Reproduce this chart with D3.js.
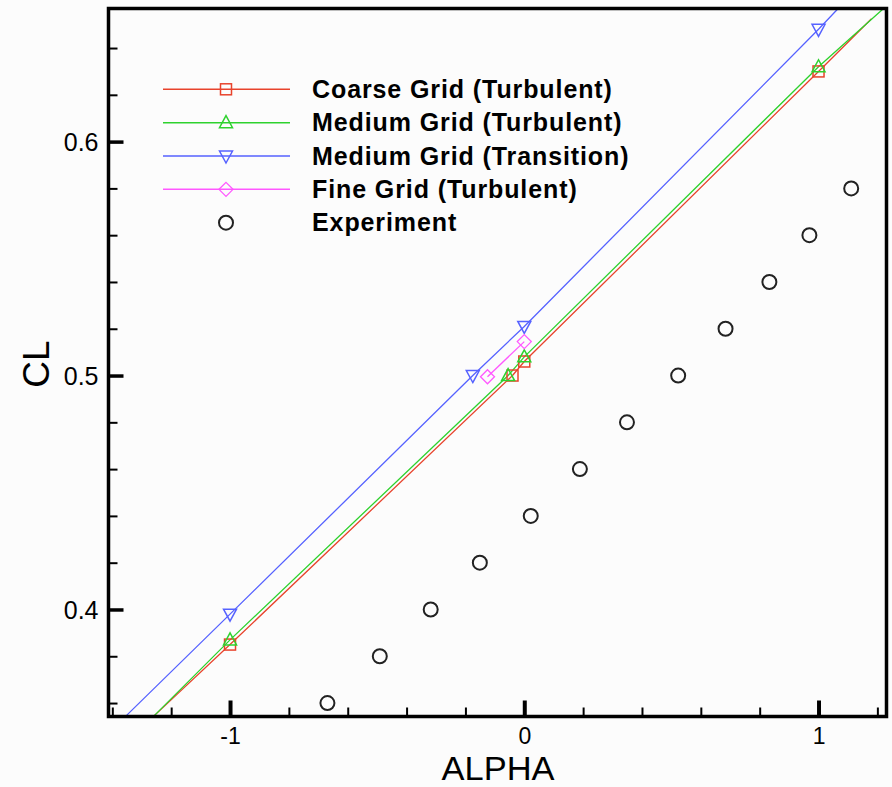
<!DOCTYPE html>
<html>
<head>
<meta charset="utf-8">
<script src="https://cdn.jsdelivr.net/npm/d3@7"></script>
<style>
  html, body { margin: 0; padding: 0; background: #fcfcfc; }
  svg { display: block; }
  text { font-family: "Liberation Sans", Arial, Helvetica, sans-serif; fill: #000; }
</style>
</head>
<body>
<svg id="chart" width="892" height="787"></svg>
<script>
// Lift coefficient vs angle of attack: CFD grids and experiment

// Coarse grid, turbulent
const coarseAlpha = [-1, -0.04, 0, 1];
const coarseCL    = [0.385, 0.5, 0.506, 0.630];
const coarseCurveAlpha = [-1.26, -1, -0.04, 0, 1, 1.18];
const coarseCurveCL    = [0.3543, 0.385, 0.5, 0.506, 0.630, 0.6525];

// Medium grid, turbulent
const mediumAlpha = [-1, -0.055, 0, 1];
const mediumCL    = [0.387, 0.5, 0.508, 0.632];
const mediumCurveAlpha = [-1.26, -1, -0.055, 0, 1, 1.22];
const mediumCurveCL    = [0.3543, 0.387, 0.5, 0.508, 0.632, 0.6568];

// Medium grid, transition
const transAlpha = [-1, -0.175, 0, 1];
const transCL    = [0.398, 0.5, 0.521, 0.648];
const transCurveAlpha = [-1.355, -1, -0.175, 0, 1, 1.066];
const transCurveCL    = [0.3543, 0.398, 0.5, 0.521, 0.648, 0.6568];

// Fine grid, turbulent
const fineAlpha = [-0.125, 0];
const fineCL    = [0.4995, 0.5145];

// Experiment
const expAlpha = [-0.669, -0.491, -0.318, -0.151, 0.022, 0.189, 0.349, 0.523, 0.684, 0.833, 0.969, 1.111];
const expCL    = [0.36, 0.38, 0.40, 0.42, 0.44, 0.46, 0.48, 0.50, 0.52, 0.54, 0.56, 0.58];

// Axis ticks
const xMajorTicks = [-1, 0, 1];
const xMinorTicks = [-1.4, -1.2, -0.8, -0.6, -0.4, -0.2, 0.2, 0.4, 0.6, 0.8, 1.2];
const yMajorTicks = [0.4, 0.5, 0.6];
const yMinorTicks = [0.36, 0.38, 0.42, 0.44, 0.46, 0.48, 0.52, 0.54, 0.56, 0.58, 0.62, 0.64];
const xTickLabels = ["-1", "0", "1"];
const yTickLabels = ["0.4", "0.5", "0.6"];

const legendLabels = [
  "Coarse Grid (Turbulent)",
  "Medium Grid (Turbulent)",
  "Medium Grid (Transition)",
  "Fine Grid (Turbulent)",
  "Experiment"
];

const zip = (a, b) => a.map((v, i) => [v, b[i]]);

const series = [
  { name: legendLabels[0], color: "#e8432c", symbol: "square",   pts: zip(coarseAlpha, coarseCL), curve: zip(coarseCurveAlpha, coarseCurveCL) },
  { name: legendLabels[1], color: "#2ed22e", symbol: "triUp",    pts: zip(mediumAlpha, mediumCL), curve: zip(mediumCurveAlpha, mediumCurveCL) },
  { name: legendLabels[2], color: "#5662ff", symbol: "triDown",  pts: zip(transAlpha, transCL),   curve: zip(transCurveAlpha, transCurveCL) },
  { name: legendLabels[3], color: "#ff58ff", symbol: "diamond",  pts: zip(fineAlpha, fineCL),     curve: zip(fineAlpha, fineCL) }
];

const svg = d3.select("#chart");
const plotLeft = 108.5, plotRight = 886.5, plotTop = 8.5, plotBottom = 716.5;

const x = d3.scaleLinear().domain([-1.413, 1.231]).range([plotLeft, plotRight]);
const y = d3.scaleLinear().domain([0.35425, 0.6569]).range([plotBottom, plotTop]);

svg.append("defs").append("clipPath").attr("id", "plotClip")
  .append("rect").attr("x", plotLeft).attr("y", plotTop)
  .attr("width", plotRight - plotLeft).attr("height", plotBottom - plotTop);

// Marker shapes drawn around a centre point
function marker(g, type, cx, cy, color) {
  const s = 5.5;
  if (type === "square") {
    g.append("rect").attr("x", cx - s).attr("y", cy - s).attr("width", 2 * s).attr("height", 2 * s)
      .attr("fill", "none").attr("stroke", color).attr("stroke-width", 1.5);
  } else if (type === "triUp") {
    g.append("path").attr("d", `M${cx},${cy - 7}L${cx + 6.5},${cy + 5}L${cx - 6.5},${cy + 5}Z`)
      .attr("fill", "none").attr("stroke", color).attr("stroke-width", 1.5);
  } else if (type === "triDown") {
    g.append("path").attr("d", `M${cx},${cy + 7}L${cx + 6.5},${cy - 5}L${cx - 6.5},${cy - 5}Z`)
      .attr("fill", "none").attr("stroke", color).attr("stroke-width", 1.5);
  } else if (type === "diamond") {
    g.append("path").attr("d", `M${cx},${cy - 7}L${cx + 7},${cy}L${cx},${cy + 7}L${cx - 7},${cy}Z`)
      .attr("fill", "none").attr("stroke", color).attr("stroke-width", 1.3);
  } else if (type === "circle") {
    g.append("circle").attr("cx", cx).attr("cy", cy).attr("r", 7)
      .attr("fill", "none").attr("stroke", "#222").attr("stroke-width", 2);
  }
}

const plot = svg.append("g").attr("clip-path", "url(#plotClip)");
const line = d3.line().x(d => x(d[0])).y(d => y(d[1]));

series.forEach(s => {
  plot.append("path").datum(s.curve).attr("d", line)
    .attr("fill", "none").attr("stroke", s.color).attr("stroke-width", 1.3);
});
series.forEach(s => {
  s.pts.forEach(p => marker(plot, s.symbol, x(p[0]), y(p[1]), s.color));
});
zip(expAlpha, expCL).forEach(p => marker(plot, "circle", x(p[0]), y(p[1])));

// Frame
svg.append("rect").attr("x", plotLeft).attr("y", plotTop)
  .attr("width", plotRight - plotLeft).attr("height", plotBottom - plotTop)
  .attr("fill", "none").attr("stroke", "#000").attr("stroke-width", 3.5);

// Bottom axis ticks and labels
const xAxisMajor = d3.axisBottom(x).tickValues(xMajorTicks).tickSize(-16).tickFormat((d, i) => xTickLabels[i]);
const xAxisMinor = d3.axisBottom(x).tickValues(xMinorTicks).tickSize(-9).tickFormat("");
const gxMinor = svg.append("g").attr("transform", `translate(0,${plotBottom})`).call(xAxisMinor);
const gxMajor = svg.append("g").attr("transform", `translate(0,${plotBottom})`).call(xAxisMajor);
[gxMinor, gxMajor].forEach(g => g.select(".domain").remove());
gxMinor.selectAll(".tick line").attr("stroke", "#000").attr("stroke-width", 2);
gxMajor.selectAll(".tick line").attr("stroke", "#000").attr("stroke-width", 4);
gxMajor.selectAll(".tick text").attr("font-size", 23).attr("font-family", "Liberation Sans, Arial, sans-serif")
  .attr("fill", "#000").attr("dy", null).attr("y", 27.5);

// Left axis ticks and labels
const yAxisMajor = d3.axisLeft(y).tickValues(yMajorTicks).tickSize(-15).tickFormat((d, i) => yTickLabels[i]);
const yAxisMinor = d3.axisLeft(y).tickValues(yMinorTicks).tickSize(-9).tickFormat("");
const gyMinor = svg.append("g").attr("transform", `translate(${plotLeft},0)`).call(yAxisMinor);
const gyMajor = svg.append("g").attr("transform", `translate(${plotLeft},0)`).call(yAxisMajor);
[gyMinor, gyMajor].forEach(g => g.select(".domain").remove());
gyMinor.selectAll(".tick line").attr("stroke", "#000").attr("stroke-width", 2);
gyMajor.selectAll(".tick line").attr("stroke", "#000").attr("stroke-width", 3.5);
gyMajor.selectAll(".tick text").attr("font-size", 25).attr("font-family", "Liberation Sans, Arial, sans-serif")
  .attr("fill", "#000").attr("x", -10).attr("dy", "0.36em");

// Axis titles
svg.append("text").attr("x", 498).attr("y", 779.6).attr("text-anchor", "middle")
  .attr("font-size", 33.5).attr("textLength", 113).attr("lengthAdjust", "spacingAndGlyphs").text("ALPHA");
svg.append("text").attr("transform", "translate(49,364) rotate(-90)").attr("text-anchor", "middle")
  .attr("font-size", 37).text("CL");

// Legend
const legend = svg.append("g");
const legendTop = 89.3, legendStep = 33.35;
legendLabels.forEach((label, i) => {
  const ly = legendTop + i * legendStep;
  const s = series[i];
  if (s) {
    legend.append("line").attr("x1", 163).attr("x2", 290).attr("y1", ly).attr("y2", ly)
      .attr("stroke", s.color).attr("stroke-width", 1.5);
    marker(legend, s.symbol, 226, ly, s.color);
  } else {
    marker(legend, "circle", 226, ly);
  }
  legend.append("text").attr("x", 312).attr("y", ly + 8.5)
    .attr("font-size", 25).attr("font-weight", "bold").attr("letter-spacing", 0.9).text(label);
});
</script>
</body>
</html>
